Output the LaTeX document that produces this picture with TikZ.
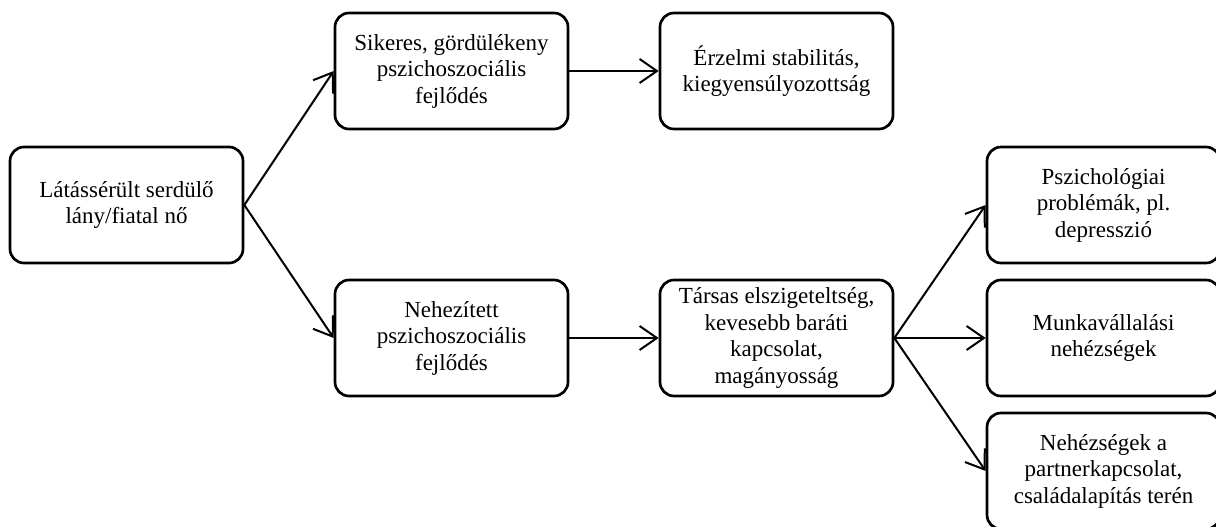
\documentclass[tikz,border=0pt]{standalone}
\usepackage{fontspec}
\setmainfont{Liberation Serif}
\usetikzlibrary{arrows.meta}

\begin{document}
\begin{tikzpicture}[
  x=0.75pt, y=-0.75pt,
  box/.style={draw, line width=2pt, rounded corners=10.5pt,
    minimum width=174.75pt, minimum height=87pt, inner sep=0pt,
    align=center, font=\fontsize{17.25}{19.9}\selectfont},
  link/.style={line width=1.5pt,
    -{Straight Barb[length=13pt,width=18pt,line width=1.5pt]}}
]
\useasboundingbox (0,0) rectangle (1216,527);

\node[box] (girl)    at (126.5,205) {Látássérült serdülő\\lány/fiatal nő};
\node[box] (good)    at (451.5,71)  {Sikeres, gördülékeny\\pszichoszociális\\fejlődés};
\node[box] (stable)  at (776.5,71)  {Érzelmi stabilitás,\\kiegyensúlyozottság};
\node[box] (hard)    at (451.5,338) {Nehezített\\pszichoszociális\\fejlődés};
\node[box] (lonely)  at (776.5,338) {Társas elszigeteltség,\\kevesebb baráti\\kapcsolat,\\magányosság};
\node[box] (psych)   at (1103.5,205) {Pszichológiai\\problémák, pl.\\depresszió};
\node[box] (work)    at (1103.5,338) {Munkavállalási\\nehézségek};
\node[box] (family)  at (1103.5,471) {Nehézségek a\\partnerkapcsolat,\\családalapítás terén};

\draw[link] (girl.east) -- (good.west);
\draw[link] (girl.east) -- (hard.west);
\draw[link] (good.east) -- (stable.west);
\draw[link] (hard.east) -- (lonely.west);
\draw[link] (lonely.east) -- (psych.west);
\draw[link] (lonely.east) -- (work.west);
\draw[link] (lonely.east) -- (family.west);
\end{tikzpicture}
\end{document}
